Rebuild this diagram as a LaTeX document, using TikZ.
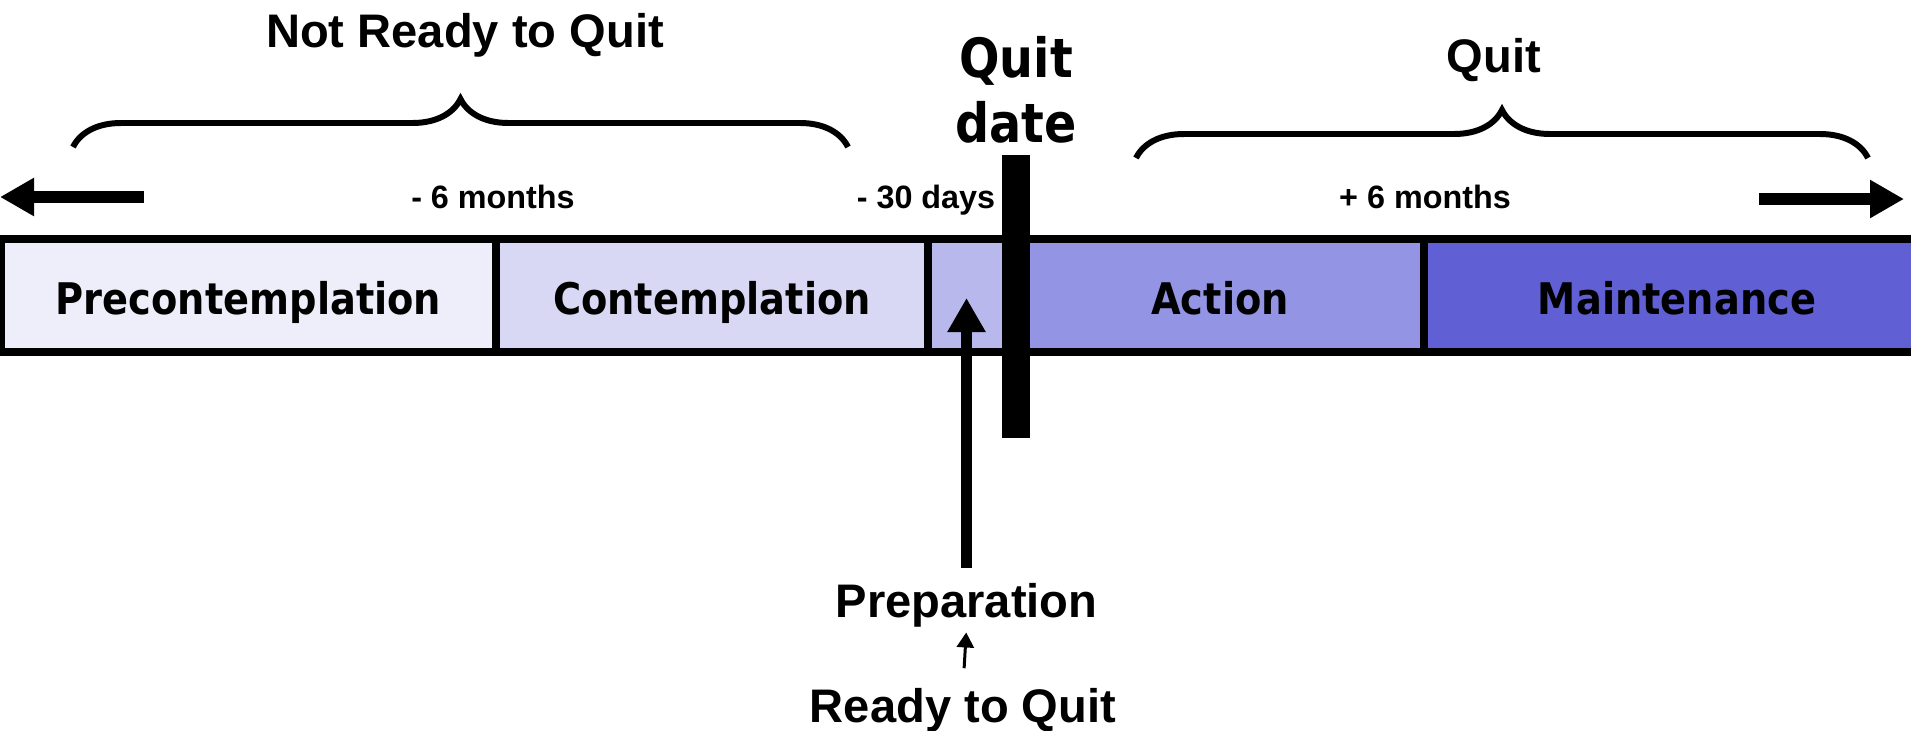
\documentclass[tikz,border=0pt]{standalone}
\usepackage{fontspec}
\setmainfont{Liberation Sans}
\newfontfamily\stagefont[FakeStretch=0.88]{DejaVu Sans}
\usetikzlibrary{arrows.meta,decorations.pathreplacing}

\definecolor{precol}{RGB}{238,238,250}
\definecolor{concol}{RGB}{216,216,244}
\definecolor{prepcol}{RGB}{184,184,236}
\definecolor{actcol}{RGB}{148,148,228}
\definecolor{maintcol}{RGB}{96,96,212}

\begin{document}
\begin{tikzpicture}[
    stage/.style={rectangle, draw=black, line width=2.1pt, minimum height=1.13cm,
        inner sep=0pt, text height=0.37cm, text depth=0pt,
        font=\stagefont\bfseries\fontsize{12.4}{14}\selectfont},
    datelabel/.style={anchor=base, inner sep=0pt,
        font=\stagefont\bfseries\fontsize{15.4}{18}\selectfont},
    timelabel/.style={anchor=base, inner sep=0pt, font=\bfseries\fontsize{9.2}{11}\selectfont},
    biglabel/.style={anchor=base, inner sep=0pt, font=\bfseries\fontsize{13.4}{16}\selectfont},
    bigarrow/.style={line width=3.4pt, -{Triangle[length=0.34cm, width=0.36cm]}},
    smallarrow/.style={line width=0.85pt, -{Triangle[length=0.15cm, width=0.17cm]}},
    curly/.style={decorate, decoration={brace, amplitude=0.48cm}, line width=1.7pt}
]
    \useasboundingbox (0,0) rectangle (19.11,-7.30);

    \node[stage, fill=precol, minimum width=4.95cm] (pre) at (2.485,-2.955) {Precontemplation};
    \node[stage, fill=concol, minimum width=4.32cm] (con) at (7.12,-2.955) {Contemplation};
    \node[stage, fill=prepcol, minimum width=0.88cm] (prep) at (9.72,-2.955) {};
    \node[stage, fill=actcol, minimum width=4.08cm] (act) at (12.20,-2.955) {Action};
    \node[stage, fill=maintcol, minimum width=5.06cm] (maint) at (16.77,-2.955) {Maintenance};
    \node[fill=black, inner sep=0pt, minimum width=0.28cm, minimum height=2.83cm] (quitbar) at (10.16,-2.965) {};

    \node[biglabel] (notready) at (4.65,-0.47) {Not Ready to Quit};
    \node[biglabel] (quit) at (14.94,-0.72) {Quit};
    \node[datelabel] (quitword) at (10.16,-0.77) {Quit};
    \node[datelabel] (dateword) at (10.16,-1.42) {date};
    \node[timelabel] (minus6) at (4.93,-2.08) {- 6 months};
    \node[timelabel] (minus30) at (9.26,-2.08) {- 30 days};
    \node[timelabel] (plus6) at (14.25,-2.08) {+ 6 months};
    \node[biglabel] (preplabel) at (9.665,-6.17) {Preparation};
    \node[biglabel] (ready) at (9.63,-7.22) {Ready to Quit};

    \draw[curly] (0.73,-1.47) -- (8.48,-1.47);
    \draw[curly] (11.36,-1.58) -- (18.68,-1.58);

    \coordinate (pasttip) at (0,-1.97);
    \coordinate (pasttail) at (1.44,-1.97);
    \coordinate (futuretail) at (17.59,-1.99);
    \coordinate (futuretip) at (19.04,-1.99);
    \coordinate (preptip) at (9.665,-2.98);
    \draw[bigarrow] (pasttail) -- (pasttip);
    \draw[bigarrow] (futuretail) -- (futuretip);
    \draw[bigarrow, shorten <=1.4mm] (preplabel.north) -- (preptip);
    \draw[smallarrow, shorten <=1.9mm, shorten >=0.5mm] (ready.north) -- (preplabel.south);
\end{tikzpicture}
\end{document}
